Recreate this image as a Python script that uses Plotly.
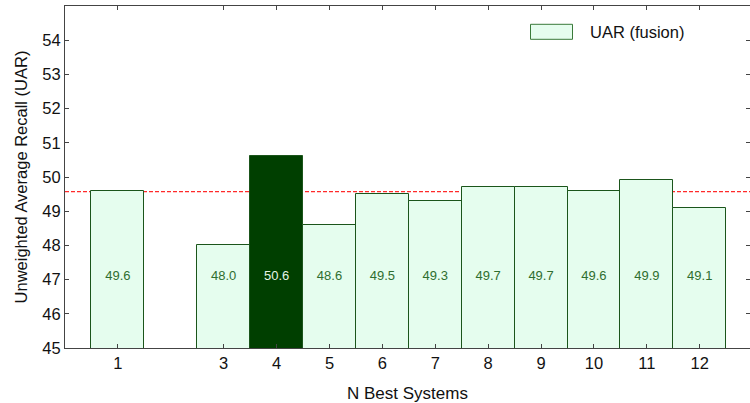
import plotly.graph_objects as go

# N best systems fused, and the resulting UAR (%)
n_best = [1, 3, 4, 5, 6, 7, 8, 9, 10, 11, 12]
uar = [49.6, 48.0, 50.6, 48.6, 49.5, 49.3, 49.7, 49.7, 49.6, 49.9, 49.1]
baseline_uar = 49.57
best_n = 4
y_ticks = [45, 46, 47, 48, 49, 50, 51, 52, 53, 54]
series_name = "UAR (fusion)"

LIGHT = "#e5fdee"
DARK = "#003f00"
EDGE = "#1b551b"
FONT = "Liberation Sans, Arial, Helvetica, sans-serif"

fills = [DARK if n == best_n else LIGHT for n in n_best]
text_cols = ["#e6f5e6" if n == best_n else "#2f6e2f" for n in n_best]

fig = go.Figure()
fig.add_trace(go.Bar(
    x=n_best, y=uar, base=0, width=1.0,
    marker=dict(color=fills, line=dict(color=EDGE, width=1)),
    name=series_name, showlegend=False, hoverinfo="x+y",
))
# value labels at a fixed height inside each bar
fig.add_trace(go.Scatter(
    x=n_best, y=[47.07] * len(n_best), mode="text",
    text=[f"{v:.1f}" for v in uar],
    textfont=dict(family=FONT, size=13, color=text_cols),
    showlegend=False, hoverinfo="skip",
))

# baseline reference line
fig.add_shape(type="line", xref="paper", x0=0, x1=1, yref="y",
              y0=baseline_uar, y1=baseline_uar, layer="below",
              line=dict(color="#ff2a2a", width=1.3, dash="4px,2px"))

# legend key
fig.add_shape(type="rect", xref="paper", yref="paper",
              x0=(530.5 - 65) / 685, x1=(572.5 - 65) / 685,
              y0=1 - (39.3 - 6) / 342, y1=1 - (24.3 - 6) / 342,
              fillcolor=LIGHT, line=dict(color="#3a7a3a", width=1))
fig.add_annotation(xref="paper", yref="paper",
                   x=(587.5 - 65) / 685, y=1 - (31.8 - 6) / 342,
                   xanchor="left", yanchor="middle", showarrow=False,
                   text=series_name,
                   font=dict(family=FONT, size=16.5, color="#111111"))

axis_common = dict(
    showline=True, linecolor="#444444", linewidth=1, mirror="ticks",
    ticks="inside", ticklen=4, tickcolor="#444444", showgrid=False,
    zeroline=False, tickfont=dict(family=FONT, size=16.5, color="#111111"),
)
fig.update_xaxes(range=[0, 12.95], tickvals=n_best,
                 title=dict(text="N Best Systems", standoff=16,
                            font=dict(family=FONT, size=17, color="#111111")),
                 **axis_common)
fig.update_yaxes(range=[45, 55], tickvals=y_ticks,
                 title=dict(text="Unweighted Average Recall (UAR)", standoff=10,
                            font=dict(family=FONT, size=16.5, color="#111111")),
                 **axis_common)

fig.update_layout(
    width=750, height=403,
    margin=dict(l=65, r=0, t=6, b=55),
    paper_bgcolor="white", plot_bgcolor="white",
    bargap=0, font=dict(family=FONT),
)

fig.write_html("out.html")
